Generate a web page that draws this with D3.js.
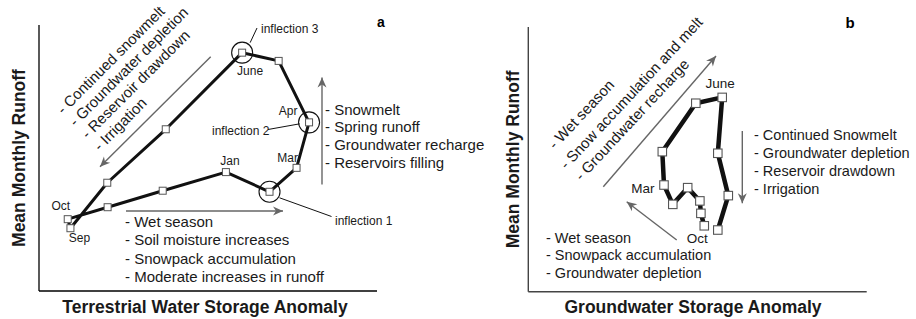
<!DOCTYPE html>
<html><head><meta charset="utf-8">
<script src="https://cdn.jsdelivr.net/npm/d3@7"></script>
<style>
html,body{margin:0;padding:0;background:#fff;}
svg text{font-family:"Liberation Sans",Arial,Helvetica,sans-serif;}
</style></head>
<body><svg id="chart" width="916" height="319"></svg>
<script>
// ---- Data (arbitrary units 0-100 on both axes; no tick marks in the original) ----
const months = ["Oct","Nov","Dec","Jan","Feb","Mar","Apr","May","June","Jul","Aug","Sep"];
// Panel a: Terrestrial water storage anomaly vs mean monthly runoff
const tws_a    = [8.5, 20.3, 36.6, 55.3, 68.2, 76.2, 79.9, 70.9, 60.1, 37.5, 20.2, 9.3];
const runoff_a = [27.0, 31.5, 37.7, 44.7, 37.3, 46.3, 63.4, 86.5, 89.6, 60.8, 40.7, 23.6];
// Panel b: Groundwater storage anomaly vs mean monthly runoff
const gws_b    = [52.0, 51.0, 50.7, 47.1, 42.7, 40.1, 39.6, 49.5, 57.3, 56.0, 59.1, 56.0];
const runoff_b = [24.9, 29.6, 34.3, 39.3, 33.0, 40.3, 52.9, 71.2, 73.4, 52.3, 36.3, 23.3];
// labelled months
const labelsA = ["Oct","Sep","Jan","Mar","Apr","June"];
const labelsB = ["June","Mar","Oct"];
// inflection points (panel a)
const inflections = [{name:"inflection 1", month:"Feb"},{name:"inflection 2", month:"Apr"},{name:"inflection 3", month:"June"}];
// annotation texts
const textA_diag  = ["- Continued snowmelt","- Groundwater depletion","- Reservoir drawdown","- Irrigation"];
const textA_right = ["- Snowmelt","- Spring runoff","- Groundwater recharge","- Reservoirs filling"];
const textA_bottom= ["- Wet season","- Soil moisture increases","- Snowpack accumulation","- Moderate increases in runoff"];
const textB_diag  = ["- Wet season","- Snow accumulation and melt","- Groundwater recharge"];
const textB_right = ["- Continued Snowmelt","- Groundwater depletion","- Reservoir drawdown","- Irrigation"];
const textB_bottom= ["- Wet season","- Snowpack accumulation","- Groundwater depletion"];

const svg = d3.select("#chart");
const arrowCol = "#666";

function arrow(g, x1, y1, x2, y2){
  g.append("line").attr("x1",x1).attr("y1",y1).attr("x2",x2).attr("y2",y2)
    .attr("stroke",arrowCol).attr("stroke-width",1.4);
  const ang = Math.atan2(y2-y1, x2-x1)*180/Math.PI;
  g.append("path").attr("d","M0,0 L-10,-4.5 L-7,0 L-10,4.5 Z")
    .attr("fill",arrowCol).attr("transform",`translate(${x2},${y2}) rotate(${ang})`);
}
function block(g, lines, x, y, dy, size){
  lines.forEach((t,i)=>g.append("text").attr("x",x).attr("y",y+i*dy)
    .attr("font-size",size).attr("fill","#1a1a1a").text(t));
}

// ================= Panel a =================
const gA = svg.append("g");
const xA = d3.scaleLinear().domain([0,100]).range([39,377]);
const yA = d3.scaleLinear().domain([0,100]).range([291,25]);
gA.append("line").attr("x1",xA(0)).attr("y1",yA(100)).attr("x2",xA(0)).attr("y2",yA(0)).attr("stroke","#000").attr("stroke-width",1.3);
gA.append("line").attr("x1",xA(0)).attr("y1",yA(0)).attr("x2",xA(100)).attr("y2",yA(0)).attr("stroke","#000").attr("stroke-width",1.3);
gA.append("text").attr("transform",`translate(25,${(yA(0)+yA(100))/2}) rotate(-90)`)
  .attr("text-anchor","middle").attr("font-size",17.5).attr("font-weight","bold").attr("fill","#1a1a1a").text("Mean Monthly Runoff");
gA.append("text").attr("x",(xA(0)+xA(100))/2-3).attr("y",313)
  .attr("text-anchor","middle").attr("font-size",17.5).attr("font-weight","bold").attr("fill","#1a1a1a").text("Terrestrial Water Storage Anomaly");
gA.append("text").attr("x",381).attr("y",27).attr("text-anchor","middle").attr("font-size",14).attr("font-weight","bold").text("a");

const ptsA = months.map((m,i)=>({m, x:xA(tws_a[i]), y:yA(runoff_a[i])}));
gA.append("path").attr("d", d3.line().x(d=>d.x).y(d=>d.y).curve(d3.curveLinearClosed)(ptsA))
  .attr("fill","none").attr("stroke","#111").attr("stroke-width",3).attr("stroke-linejoin","round");
const sA = 7;
gA.selectAll("rect.m").data(ptsA).join("rect").attr("x",d=>d.x-sA/2).attr("y",d=>d.y-sA/2)
  .attr("width",sA).attr("height",sA).attr("fill","#fff").attr("stroke","#555").attr("stroke-width",1);
// inflection circles
inflections.forEach(f=>{
  const p = ptsA.find(d=>d.m===f.month);
  gA.append("circle").attr("cx",p.x).attr("cy",p.y).attr("r",10.5).attr("fill","none").attr("stroke","#111").attr("stroke-width",1.1);
});
const pF = ptsA.find(d=>d.m==="Feb"), pAp = ptsA.find(d=>d.m==="Apr"), pJ = ptsA.find(d=>d.m==="June");
gA.append("line").attr("x1",pJ.x+8).attr("y1",pJ.y-10).attr("x2",257).attr("y2",28).attr("stroke","#111").attr("stroke-width",1);
gA.append("text").attr("x",261).attr("y",33).attr("font-size",12).attr("fill","#1a1a1a").text("inflection 3");
gA.append("line").attr("x1",pAp.x-9.5).attr("y1",pAp.y+1.5).attr("x2",268).attr("y2",129.5).attr("stroke","#111").attr("stroke-width",1);
gA.append("text").attr("x",212).attr("y",134.5).attr("font-size",12).attr("fill","#1a1a1a").text("inflection 2");
gA.append("line").attr("x1",pF.x+10).attr("y1",pF.y+6).attr("x2",331.5).attr("y2",216.5).attr("stroke","#111").attr("stroke-width",1);
gA.append("text").attr("x",335).attr("y",225).attr("font-size",12).attr("fill","#1a1a1a").text("inflection 1");
// month labels
const offA = {Oct:[-7,-9,"middle"],Sep:[9,14,"middle"],Jan:[4,-7,"middle"],Mar:[-9,-6,"middle"],Apr:[-21,-7,"middle"],June:[8,22,"middle"]};
labelsA.forEach(m=>{
  const p = ptsA.find(d=>d.m===m), o = offA[m];
  gA.append("text").attr("x",p.x+o[0]).attr("y",p.y+o[1]).attr("text-anchor",o[2]).attr("font-size",12).attr("fill","#1a1a1a").text(m);
});
// arrows and annotations
arrow(gA, 210.7,56.7, 100,166.7);
arrow(gA, 126,211, 283,211);
arrow(gA, 322,184.5, 322,77.5);
textA_diag.forEach((t,i)=>gA.append("text")
  .attr("transform",`translate(${63.2+i*12.25},${114.9+i*12.25}) rotate(-45)`)
  .attr("font-size",15).attr("fill","#1a1a1a").text(t));
block(gA, textA_right, 325, 114.5, 17.7, 15);
block(gA, textA_bottom, 125, 227, 18.3, 15);

// ================= Panel b =================
const gB = svg.append("g");
const xB = d3.scaleLinear().domain([0,100]).range([528.3,866.7]);
const yB = d3.scaleLinear().domain([0,100]).range([291.7,27]);
gB.append("line").attr("x1",xB(0)).attr("y1",yB(100)).attr("x2",xB(0)).attr("y2",yB(0)).attr("stroke","#444").attr("stroke-width",1.4);
gB.append("line").attr("x1",xB(0)).attr("y1",yB(0)).attr("x2",xB(100)).attr("y2",yB(0)).attr("stroke","#444").attr("stroke-width",1.4);
gB.append("text").attr("transform",`translate(519,${(yB(0)+yB(100))/2}) rotate(-90)`)
  .attr("text-anchor","middle").attr("font-size",17.5).attr("font-weight","bold").attr("fill","#1a1a1a").text("Mean Monthly Runoff");
gB.append("text").attr("x",693).attr("y",313)
  .attr("text-anchor","middle").attr("font-size",17.5).attr("font-weight","bold").attr("fill","#1a1a1a").text("Groundwater Storage Anomaly");
gB.append("text").attr("x",850).attr("y",28).attr("text-anchor","middle").attr("font-size",15).attr("font-weight","bold").text("b");

const ptsB = months.map((m,i)=>({m, x:xB(gws_b[i]), y:yB(runoff_b[i])}));
gB.append("path").attr("d", d3.line().x(d=>d.x).y(d=>d.y)(ptsB))
  .attr("fill","none").attr("stroke","#111").attr("stroke-width",4.5).attr("stroke-linejoin","round");
const sB = 8.5;
gB.selectAll("rect.m").data(ptsB).join("rect").attr("x",d=>d.x-sB/2).attr("y",d=>d.y-sB/2)
  .attr("width",sB).attr("height",sB).attr("fill","#fff").attr("stroke","#555").attr("stroke-width",1.1);
const offB = {June:[-2,-9],Mar:[-21,8],Oct:[-7,17]};
labelsB.forEach(m=>{
  const p = ptsB.find(d=>d.m===m), o = offB[m];
  gB.append("text").attr("x",p.x+o[0]).attr("y",p.y+o[1]).attr("text-anchor","middle").attr("font-size",13.5).attr("fill","#1a1a1a").text(m);
});
arrow(gB, 603.3,186.7, 716,56);
arrow(gB, 742.3,131, 742.3,203.3);
arrow(gB, 676.7,240, 626.7,201.7);
const diagB = [[555,150],[566.6,170],[581.6,181.4]];
textB_diag.forEach((t,i)=>gB.append("text")
  .attr("transform",`translate(${diagB[i][0]},${diagB[i][1]}) rotate(-47)`)
  .attr("font-size",15).attr("fill","#1a1a1a").text(t));
block(gB, textB_right, 754, 140, 18.1, 14.5);
block(gB, textB_bottom, 546, 242.5, 17.7, 14.5);
</script></body></html>
